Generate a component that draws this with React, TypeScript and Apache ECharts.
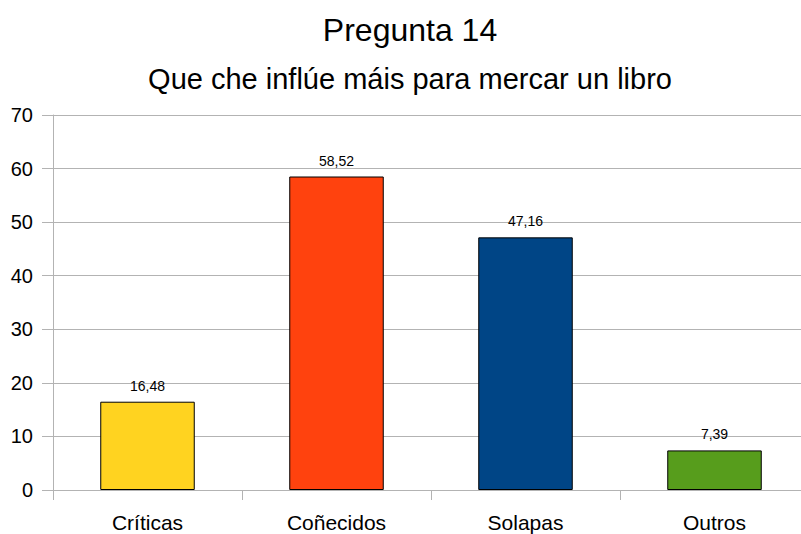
import React, { useEffect, useRef } from "react";
import * as echarts from "echarts";

const categories = ["Críticas", "Coñecidos", "Solapas", "Outros"];
const values = [16.48, 58.52, 47.16, 7.39];
const colors = ["#FFD320", "#FF420E", "#004586", "#579D1C"];
const yTicks = [0, 10, 20, 30, 40, 50, 60, 70];

export default function App() {
  const ref = useRef<HTMLDivElement>(null);
  useEffect(() => {
    if (!ref.current) return;
    const chart = echarts.init(ref.current, null, { renderer: "svg" });
    const font = "'Liberation Sans', Arial, sans-serif";
    chart.setOption({
      animation: false,
      backgroundColor: "#ffffff",
      textStyle: { fontFamily: font },
      title: [
        {
          text: "Pregunta 14",
          left: "center",
          top: 9,
          textStyle: { fontSize: 32, fontWeight: "normal", color: "#000", fontFamily: font },
        },
        {
          text: "Que che inflúe máis para mercar un libro",
          left: "center",
          top: 59,
          textStyle: { fontSize: 29, fontWeight: "normal", color: "#000", fontFamily: font },
        },
      ],
      grid: { left: 53, right: 11, top: 115, bottom: 44, containLabel: false },
      xAxis: {
        type: "category",
        data: categories,
        axisLine: { show: true, lineStyle: { color: "#b3b3b3" } },
        axisTick: { show: true, length: 10, lineStyle: { color: "#b3b3b3" } },
        axisLabel: { color: "#000", fontSize: 21, margin: 22, fontFamily: font },
      },
      yAxis: {
        type: "value",
        min: yTicks[0],
        max: yTicks[yTicks.length - 1],
        interval: 10,
        axisLine: { show: true, lineStyle: { color: "#b3b3b3" } },
        axisTick: { show: true, length: 11, lineStyle: { color: "#b3b3b3" } },
        splitLine: { show: true, lineStyle: { color: "#b3b3b3" } },
        axisLabel: { color: "#000", fontSize: 20, margin: 20, fontFamily: font },
      },
      series: [
        {
          type: "bar",
          barWidth: "50%",
          data: values.map((v, i) => ({
            value: v,
            itemStyle: { color: colors[i], borderColor: "#000", borderWidth: 1 },
          })),
          label: {
            show: true,
            position: "top",
            distance: 9,
            color: "#000",
            fontSize: 14,
            fontFamily: font,
            formatter: (p: any) => String(p.value).replace(".", ","),
          },
        },
      ],
    });
    return () => chart.dispose();
  }, []);
  return (
    <div
      style={{
        position: "fixed",
        left: 0,
        top: 0,
        width: 801,
        height: 534,
        overflow: "hidden",
        background: "#fff",
      }}
    >
      <div ref={ref} style={{ width: 820, height: 534 }} />
    </div>
  );
}
